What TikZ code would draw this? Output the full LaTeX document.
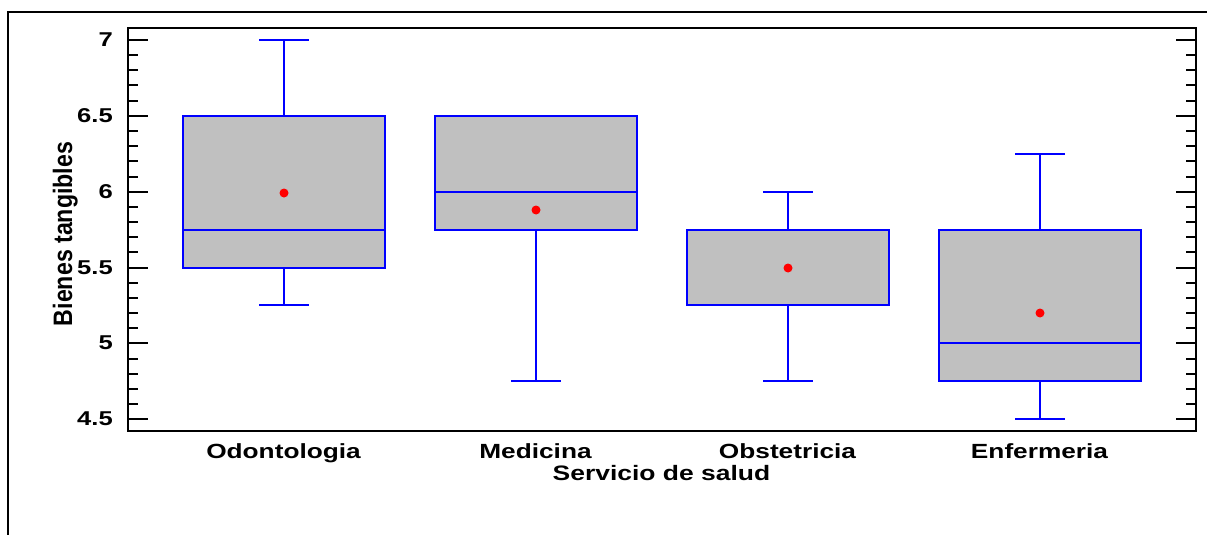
\documentclass[tikz,border=0pt]{standalone}
\usepackage{fontspec}
\setmainfont{Liberation Sans}
\definecolor{bblue}{RGB}{0,0,255}
\definecolor{bgray}{RGB}{192,192,192}
\tikzset{
  whisk/.style={color=bblue, draw=bblue, line width=2pt},
  boxst/.style={draw=bblue, fill=bgray, line width=2pt},
  axisline/.style={black, line width=2pt},
  ticklab/.style={anchor=east, inner sep=0pt, font=\fontsize{20}{20}\selectfont\bfseries},
  catlab/.style={anchor=base, inner sep=0pt, font=\fontsize{20.5}{20.5}\selectfont\bfseries},
  meandot/.style={fill=red, draw=none}
}
\newcommand\bxplot[7]{%
  \draw[whisk] ({#1},{yy(#2)}) -- ({#1},{yy(#3)});
  \draw[whisk] ({#1},{yy(#5)}) -- ({#1},{yy(#6)});
  \draw[whisk] ({#1-25},{yy(#2)}) -- ({#1+25},{yy(#2)});
  \draw[whisk] ({#1-25},{yy(#6)}) -- ({#1+25},{yy(#6)});
  \draw[boxst] ({#1-101},{yy(#3)}) rectangle ({#1+101},{yy(#5)});
  \draw[whisk] ({#1-101},{yy(#4)}) -- ({#1+101},{yy(#4)});
  \fill[meandot] ({#1},{yy(#7)}) circle (4.5);
}
\begin{document}
\begin{tikzpicture}[x=1pt, y=-1pt, declare function={yy(\v)=round(40+(7-\v)*151.7);}]
\useasboundingbox (0,0) rectangle (1207,535);
% outer frame
\draw[black, line width=2pt] (8,540) -- (8,12) -- (1212,12);
% plot frame
\draw[axisline] (128,28) rectangle (1196,431);
% ticks
\foreach \i in {0,...,25}{
  \pgfmathtruncatemacro\m{mod(\i,5)}
  \ifnum\m=0 \def\tl{20}\else\def\tl{10}\fi
  \draw[axisline] (128,{yy(4.5+\i*0.1)}) -- ++(\tl,0);
  \draw[axisline] (1196,{yy(4.5+\i*0.1)}) -- ++(-\tl,0);
}
% tick labels
\node[ticklab] (t70) at (113,{yy(7)}) {\scalebox{1.28}[1]{7}};
\node[ticklab] (t65) at (113,{yy(6.5)}) {\scalebox{1.28}[1]{6.5}};
\node[ticklab] (t60) at (113,{yy(6)}) {\scalebox{1.28}[1]{6}};
\node[ticklab] (t55) at (113,{yy(5.5)}) {\scalebox{1.28}[1]{5.5}};
\node[ticklab] (t50) at (113,{yy(5)}) {\scalebox{1.28}[1]{5}};
\node[ticklab] (t45) at (113,{yy(4.5)}) {\scalebox{1.28}[1]{4.5}};
% boxes: center, low, q1, median, q3, high, mean
\bxplot{284}{5.25}{5.5}{5.75}{6.5}{7}{5.99}
\bxplot{536}{4.75}{5.75}{6}{6.5}{6.5}{5.88}
\bxplot{788}{4.75}{5.25}{5.75}{5.75}{6}{5.5}
\bxplot{1040}{4.5}{4.75}{5}{5.75}{6.25}{5.2}
% category labels
\node[catlab] (c1) at (283.5,458.3) {\scalebox{1.28}[1]{Odontologia}};
\node[catlab] (c2) at (535.5,458.3) {\scalebox{1.28}[1]{Medicina}};
\node[catlab] (c3) at (787.5,458.3) {\scalebox{1.28}[1]{Obstetricia}};
\node[catlab] (c4) at (1039.5,458.3) {\scalebox{1.28}[1]{Enfermeria}};
% axis titles
\node[catlab] (xlab) at (661.5,480) {\scalebox{1.29}[1.02]{Servicio de salud}};
\node[catlab, rotate=90] (ylab) at (72,234) {\scalebox{1.13}[1.3]{Bienes tangibles}};
\end{tikzpicture}
\end{document}
